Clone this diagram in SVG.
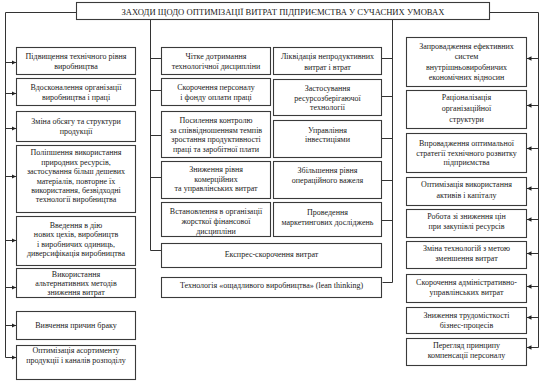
<svg xmlns="http://www.w3.org/2000/svg" width="545" height="384" viewBox="0 0 545 384">
<defs>
<style>
.b{fill:#fff;stroke:#3a3a3a;stroke-width:1.1}
.t{font-family:"Liberation Serif","Times New Roman",serif;font-size:8px;fill:#1a1a1a;text-anchor:middle}
.h{font-size:8.6px}
.c{fill:none;stroke:#333;stroke-width:1}
</style>
<marker id="ar" viewBox="0 0 6 6" refX="6" refY="3" markerWidth="4.5" markerHeight="4.5" markerUnits="userSpaceOnUse" orient="auto">
<path d="M0,0L6,3L0,6z" fill="#222"/>
</marker>
</defs>
<g id="connectors">
<path class="c" d="M76.5,12.5H5.5V357.5"/>
<path class="c" d="M489.5,12.5H538.5V347.5"/>
<path class="c" d="M150.5,19.5V250.5H161.5"/>
<path class="c" d="M392.5,19.5V282.5H382.5"/>
<path class="c" d="M150.5,58.5H161.5M150.5,90.5H161.5M150.5,135.5H161.5M150.5,177.5H161.5"/>
<path class="c" d="M392.5,58.5H381.5M392.5,96.5H381.5M392.5,138.5H381.5M392.5,180.5H381.5M392.5,220.5H381.5"/>
<g marker-end="url(#ar)">
<path class="c" d="M5.5,62.5H16"/>
<path class="c" d="M5.5,93.5H16"/>
<path class="c" d="M5.5,128.5H16"/>
<path class="c" d="M5.5,176.5H16"/>
<path class="c" d="M5.5,240.5H16"/>
<path class="c" d="M5.5,287.5H16"/>
<path class="c" d="M5.5,325.5H16"/>
<path class="c" d="M5.5,357.5H16"/>
<path class="c" d="M538.5,58.5H527"/>
<path class="c" d="M538.5,105.5H527"/>
<path class="c" d="M538.5,148.5H527"/>
<path class="c" d="M538.5,188.5H527"/>
<path class="c" d="M538.5,219.5H527"/>
<path class="c" d="M538.5,253.5H527"/>
<path class="c" d="M538.5,286.5H527"/>
<path class="c" d="M538.5,317.5H527"/>
<path class="c" d="M538.5,347.5H527"/>
</g>
</g>
<g id="title"><rect class="b" x="76.5" y="2.5" width="413" height="17"/><text class="t h" x="283" y="15">ЗАХОДИ ЩОДО ОПТИМІЗАЦІЇ ВИТРАТ ПІДПРИЄМСТВА У СУЧАСНИХ УМОВАХ</text></g>

<g id="l1"><rect class="b" x="16.5" y="47.5" width="119" height="27"/><text class="t" x="76" y="58.8">Підвищення технічного рівня</text><text class="t" x="76" y="69.3">виробництва</text></g>
<g id="l2"><rect class="b" x="16.5" y="78.5" width="119" height="27"/><text class="t" x="76" y="89.5">Вдосконалення організації</text><text class="t" x="76" y="99.5">виробництва і праці</text></g>
<g id="l3"><rect class="b" x="16.5" y="111.5" width="119" height="30"/><text class="t" x="76" y="124">Зміна обсягу та структури</text><text class="t" x="76" y="134">продукції</text></g>
<g id="l4"><rect class="b" x="16.5" y="145.5" width="119" height="67"/><text class="t" x="76" y="155.3">Поліпшення використання</text><text class="t" x="76" y="164.7">природних ресурсів,</text><text class="t" x="76" y="174.1">застосування більш дешевих</text><text class="t" x="76" y="183.5">матеріалів, повторне їх</text><text class="t" x="76" y="192.9">використання, безвідходні</text><text class="t" x="76" y="202.3">технології виробництва</text></g>
<g id="l5"><rect class="b" x="16.5" y="216.5" width="119" height="49"/><text class="t" x="76" y="227.8">Введення в дію</text><text class="t" x="76" y="237.2">нових цехів, виробництв</text><text class="t" x="76" y="246.6">і виробничих одиниць,</text><text class="t" x="76" y="256">диверсифікація виробництва</text></g>
<g id="l6"><rect class="b" x="16.5" y="268.5" width="119" height="29"/><text class="t" x="76" y="277">Використання</text><text class="t" x="76" y="286">альтернативних методів</text><text class="t" x="76" y="294.7">зниження витрат</text></g>
<g id="l7"><rect class="b" x="16.5" y="311.5" width="119" height="28"/><text class="t" x="76" y="328">Вивчення причин браку</text></g>
<g id="l8"><rect class="b" x="16.5" y="345.5" width="119" height="34"/><text class="t" x="76" y="352.8">Оптимізація асортименту</text><text class="t" x="76" y="362.5">продукції  і каналів розподілу</text></g>

<g id="m1"><rect class="b" x="161.5" y="47.5" width="109" height="27"/><text class="t" x="216" y="58.8">Чітке дотримання</text><text class="t" x="216" y="69.3">технологічної дисципліни</text></g>
<g id="m2"><rect class="b" x="161.5" y="78.5" width="109" height="27"/><text class="t" x="216" y="89.5">Скорочення персоналу</text><text class="t" x="216" y="99.5">і фонду оплати праці</text></g>
<g id="m3"><rect class="b" x="161.5" y="111.5" width="109" height="46"/><text class="t" x="216" y="123">Посилення контролю</text><text class="t" x="216" y="132.6">за співвідношенням темпів</text><text class="t" x="216" y="142.2">зростання продуктивності</text><text class="t" x="216" y="151.8">праці та заробітної плати</text></g>
<g id="m4"><rect class="b" x="161.5" y="161.5" width="109" height="37"/><text class="t" x="216" y="172">Зниження рівня</text><text class="t" x="216" y="181.5">комерційних</text><text class="t" x="216" y="191">та управлінських витрат</text></g>
<g id="m5"><rect class="b" x="161.5" y="202.5" width="109" height="34"/><text class="t" x="216" y="214.3">Встановлення в організації</text><text class="t" x="216" y="224">жорсткої фінансової</text><text class="t" x="216" y="233.7">дисципліни</text></g>

<g id="n1"><rect class="b" x="273.5" y="47.5" width="108" height="27"/><text class="t" x="327.5" y="58.8">Ліквідація непродуктивних</text><text class="t" x="327.5" y="69.5">витрат і втрат</text></g>
<g id="n2"><rect class="b" x="273.5" y="79.5" width="108" height="36"/><text class="t" x="327.5" y="91">Застосування</text><text class="t" x="327.5" y="100.5">ресурсозберігаючої</text><text class="t" x="327.5" y="110.3">технології</text></g>
<g id="n3"><rect class="b" x="273.5" y="120.5" width="108" height="37"/><text class="t" x="327.5" y="132.8">Управління</text><text class="t" x="327.5" y="141.5">інвестиціями</text></g>
<g id="n4"><rect class="b" x="273.5" y="161.5" width="108" height="37"/><text class="t" x="327.5" y="172.8">Збільшення рівня</text><text class="t" x="327.5" y="183.3">операційного важеля</text></g>
<g id="n5"><rect class="b" x="273.5" y="202.5" width="108" height="34"/><text class="t" x="327.5" y="214.5">Проведення</text><text class="t" x="327.5" y="225">маркетингових досліджень</text></g>

<g id="express"><rect class="b" x="161.5" y="243.5" width="220" height="24"/><text class="t" x="271.5" y="256.8">Експрес-скорочення витрат</text></g>
<g id="lean"><rect class="b" x="161.5" y="277.5" width="220" height="20"/><text class="t" x="271.5" y="287.8">Технологія «ощадливого виробництва» (lean thinking)</text></g>

<g id="r1"><rect class="b" x="406.5" y="37.5" width="120" height="49"/><text class="t" x="466.5" y="48.8">Запровадження ефективних</text><text class="t" x="466.5" y="59.3">систем</text><text class="t" x="466.5" y="69.5">внутрішньовиробничих</text><text class="t" x="466.5" y="79.5">економічних відносин</text></g>
<g id="r2"><rect class="b" x="406.5" y="90.5" width="120" height="38"/><text class="t" x="466.5" y="99.5">Раціоналізація</text><text class="t" x="466.5" y="111">організаційної</text><text class="t" x="466.5" y="122">структури</text></g>
<g id="r3"><rect class="b" x="406.5" y="133.5" width="120" height="39"/><text class="t" x="466.5" y="145.8">Впровадження оптимальної</text><text class="t" x="466.5" y="155.5">стратегії технічного розвитку</text><text class="t" x="466.5" y="165">підприємства</text></g>
<g id="r4"><rect class="b" x="406.5" y="177.5" width="120" height="28"/><text class="t" x="466.5" y="187">Оптимізація використання</text><text class="t" x="466.5" y="197.5">активів і капіталу</text></g>
<g id="r5"><rect class="b" x="406.5" y="209.5" width="120" height="28"/><text class="t" x="466.5" y="218.8">Робота зі зниження цін</text><text class="t" x="466.5" y="228.8">при закупівлі ресурсів</text></g>
<g id="r6"><rect class="b" x="406.5" y="241.5" width="120" height="27"/><text class="t" x="466.5" y="251">Зміна технологій з метою</text><text class="t" x="466.5" y="261">зменшення витрат</text></g>
<g id="r7"><rect class="b" x="406.5" y="274.5" width="120" height="28"/><text class="t" x="466.5" y="284.5">Скорочення адміністративно-</text><text class="t" x="466.5" y="294.5">управлінських витрат</text></g>
<g id="r8"><rect class="b" x="406.5" y="307.5" width="120" height="26"/><text class="t" x="466.5" y="317.8">Зниження трудомісткості</text><text class="t" x="466.5" y="327.8">бізнес-процесів</text></g>
<g id="r9"><rect class="b" x="406.5" y="338.5" width="120" height="27"/><text class="t" x="466.5" y="347.8">Перегляд принципу</text><text class="t" x="466.5" y="357.8">компенсації персоналу</text></g>
</svg>
